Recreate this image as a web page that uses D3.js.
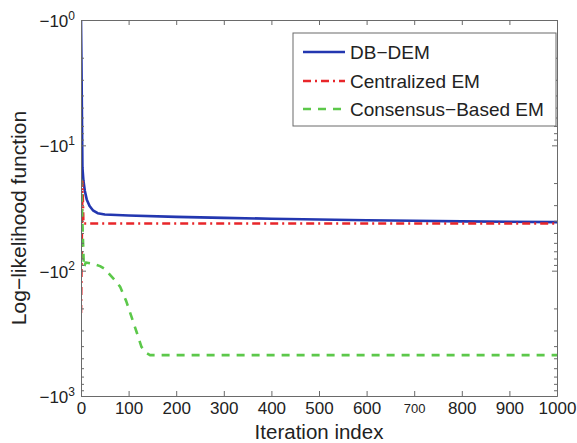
<!DOCTYPE html>
<html>
<head>
<meta charset="utf-8">
<script src="https://cdn.jsdelivr.net/npm/d3@7"></script>
<style>
  body { margin: 0; background: #fff; }
  text { font-family: "Liberation Sans", Arial, Helvetica, sans-serif; fill: #222; }
</style>
</head>
<body>
<svg id="chart" width="577" height="443"></svg>
<script>
// Tick values
const iterTicks = [0, 100, 200, 300, 400, 500, 600, 700, 800, 900, 1000];
const llDecades = [-1, -10, -100, -1000];

// DB-DEM log-likelihood per iteration
const dbdemIter = [0, 1, 2, 3, 5, 8, 12, 18, 25, 35, 50, 100, 200, 300, 400, 500, 600, 700, 800, 900, 1000];
const dbdemLL   = [-1, -2.2, -6, -15, -19, -23, -27, -30.5, -33, -34.8, -35.6, -36.3, -37.2, -37.9, -38.5, -39.1, -39.6, -40.0, -40.4, -40.7, -41.0];

// Centralized EM
const centralIter = [0, 3, 5, 1000];
const centralLL   = [-218, -19.5, -42, -42];

// Consensus-based EM
const consensusIter = [0, 6, 10, 25, 40, 50, 61, 72, 82, 95, 106, 117, 127, 138, 145, 1000];
const consensusLL   = [-18.5, -94, -86, -88, -92, -97, -108, -120, -134, -175, -233, -310, -405, -455, -472, -472];

const seriesNames = ["DB-DEM", "Centralized EM", "Consensus-Based EM"];
const seriesColors = ["#2337b0", "#e8262a", "#5cc84a"];
const seriesDash = [null, "8,4,2,4", "8,7"];

const svg = d3.select("#chart");
const plotLeft = 81, plotRight = 557, plotTop = 20, plotBottom = 396;

const x = d3.scaleLinear().domain([0, 1000]).range([plotLeft, plotRight]);
// magnitude of the (negative) log-likelihood on a log scale, growing downward
const mag = d3.scaleLog().domain([1, 1000]).range([plotTop, plotBottom]);
const yOf = v => mag(-v);

const axisColor = "#6a6a6a";
const fontStack = '"Liberation Sans", Arial, Helvetica, sans-serif';

// minor log ticks
const minorTicks = [];
[1, 10, 100].forEach(b => { for (let k = 2; k <= 9; k++) minorTicks.push(b * k); });
const majorMag = llDecades.map(v => -v);

function styleAxis(g) {
  g.selectAll("path.domain").attr("stroke", axisColor).attr("stroke-width", 1);
  g.selectAll(".tick line").attr("stroke", axisColor).attr("stroke-width", 1);
}

// clip region for data lines
svg.append("defs").append("clipPath").attr("id", "plotClip")
  .append("rect").attr("x", plotLeft).attr("y", plotTop)
  .attr("width", plotRight - plotLeft).attr("height", plotBottom - plotTop);

// data lines
const lineGen = d3.line().x(d => x(d[0])).y(d => yOf(d[1]));
const seriesData = [
  d3.zip(dbdemIter, dbdemLL),
  d3.zip(centralIter, centralLL),
  d3.zip(consensusIter, consensusLL)
];
const plotG = svg.append("g").attr("clip-path", "url(#plotClip)");
seriesData.forEach((data, i) => {
  plotG.append("path")
    .datum(data)
    .attr("d", lineGen)
    .attr("fill", "none")
    .attr("stroke", seriesColors[i])
    .attr("stroke-width", 2.6)
    .attr("stroke-linejoin", "round")
    .attr("stroke-dasharray", seriesDash[i]);
});

// bottom axis
const gb = svg.append("g").attr("transform", `translate(0,${plotBottom})`)
  .call(d3.axisBottom(x).tickValues(iterTicks).tickFormat(d3.format("d"))
    .tickSizeInner(-5).tickSizeOuter(0).tickPadding(6));
styleAxis(gb);
gb.selectAll(".tick text").attr("font-size", 17).attr("fill", "#222")
  .style("font-family", fontStack)
  .filter(d => d === 700).attr("font-size", 13).attr("dy", "0.85em");

// top axis
const gt = svg.append("g").attr("transform", `translate(0,${plotTop})`)
  .call(d3.axisTop(x).tickValues(iterTicks).tickSizeInner(-5).tickSizeOuter(0).tickFormat(""));
styleAxis(gt);

// left axis, major
const gl = svg.append("g").attr("transform", `translate(${plotLeft},0)`)
  .call(d3.axisLeft(mag).tickValues(majorMag).tickSizeInner(-5).tickSizeOuter(0).tickFormat(""));
styleAxis(gl);
gl.selectAll(".tick text").each(function(d) {
  const t = d3.select(this).attr("dy", null).attr("y", 6.5).attr("x", -6)
    .attr("text-anchor", "end").attr("fill", "#222")
    .style("font-family", fontStack);
  t.append("tspan").attr("font-size", 17).text("\u221210");
  t.append("tspan").attr("font-size", 12).attr("dy", -7.5).text(String(Math.round(Math.log10(d))));
});
// left axis, minor
const glm = svg.append("g").attr("transform", `translate(${plotLeft},0)`)
  .call(d3.axisLeft(mag).tickValues(minorTicks).tickSizeInner(-3).tickSizeOuter(0).tickFormat(""));
styleAxis(glm);

// right axis, major + minor
const gr = svg.append("g").attr("transform", `translate(${plotRight},0)`)
  .call(d3.axisRight(mag).tickValues(majorMag).tickSizeInner(-5).tickSizeOuter(0).tickFormat(""));
styleAxis(gr);
const grm = svg.append("g").attr("transform", `translate(${plotRight},0)`)
  .call(d3.axisRight(mag).tickValues(minorTicks).tickSizeInner(-3).tickSizeOuter(0).tickFormat(""));
styleAxis(grm);

// axis titles
svg.append("text")
  .attr("x", (plotLeft + plotRight) / 2).attr("y", 439)
  .attr("text-anchor", "middle").attr("font-size", 20.5)
  .text("Iteration index");
svg.append("text")
  .attr("transform", "translate(26,218) rotate(-90)")
  .attr("text-anchor", "middle").attr("font-size", 21)
  .text("Log\u2212likelihood function");

// legend
const lg = svg.append("g");
lg.append("rect")
  .attr("x", 293).attr("y", 33).attr("width", 263).attr("height", 93)
  .attr("fill", "#fff").attr("stroke", axisColor).attr("stroke-width", 1);
const legendY = [52, 81, 109];
seriesNames.forEach((name, i) => {
  lg.append("line")
    .attr("x1", 303).attr("x2", 345)
    .attr("y1", legendY[i]).attr("y2", legendY[i])
    .attr("stroke", seriesColors[i]).attr("stroke-width", 2.6)
    .attr("stroke-dasharray", seriesDash[i]);
  lg.append("text")
    .attr("x", 350).attr("y", legendY[i] + 6.5)
    .attr("font-size", 19)
    .text(name.replace("-", "\u2212"));
});
</script>
</body>
</html>
